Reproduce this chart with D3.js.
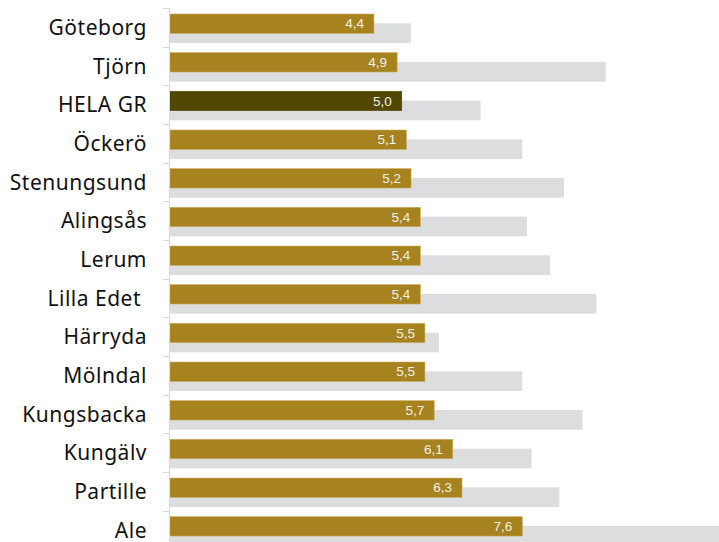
<!DOCTYPE html>
<html>
<head>
<meta charset="utf-8">
<title>GR kommuner</title>
<script src="https://d3js.org/d3.v7.min.js"></script>
<style>
  body { margin: 0; background: #fff; }
  svg { display: block; }
</style>
</head>
<body>
<svg width="719" height="542"></svg>
<script>
const categories = ['Göteborg', 'Tjörn', 'HELA GR', 'Öckerö', 'Stenungsund', 'Alingsås', 'Lerum',
  'Lilla Edet ', 'Härryda', 'Mölndal', 'Kungsbacka', 'Kungälv', 'Partille', 'Ale'];
const values = [4.4, 4.9, 5.0, 5.1, 5.2, 5.4, 5.4, 5.4, 5.5, 5.5, 5.7, 6.1, 6.3, 7.6];
const compare = [5.2, 9.4, 6.7, 7.6, 8.5, 7.7, 8.2, 9.2, 5.8, 7.6, 8.9, 7.8, 8.4, 12.0];
const highlight = 'HELA GR';

const svg = d3.select('svg');
const left = 170;

const x = d3.scaleLinear().domain([0, 1]).range([left, left + 46.35]);
const y = d3.scaleBand().domain(categories).range([8, 8 + 38.67 * categories.length]);
const step = y.step();
const barH = step * 0.5;

const fmt = d3.formatLocale({ decimal: ',', thousands: ' ', grouping: [3], currency: ['', ' kr'] }).format('.1f');

// grey comparison bars
svg.append('g').selectAll('rect')
  .data(categories)
  .join('rect')
  .attr('x', x(0))
  .attr('y', (d) => y(d) + step * 0.395)
  .attr('width', (d, i) => x(compare[i]) - x(0))
  .attr('height', barH + 0.4)
  .attr('fill', '#dcdddf');

// main bars
svg.append('g').selectAll('rect')
  .data(categories)
  .join('rect')
  .attr('x', x(0))
  .attr('y', (d) => y(d) + step * 0.155)
  .attr('width', (d, i) => x(values[i]) - x(0))
  .attr('height', barH)
  .attr('fill', (d) => d === highlight ? '#514700' : '#a6831f')
  .attr('stroke', (d) => d === highlight ? '#514700' : '#c9a95a')
  .attr('stroke-width', 0.6);

svg.append('g').selectAll('text')
  .data(categories)
  .join('text')
  .attr('x', (d, i) => x(values[i]) - 10)
  .attr('y', (d) => y(d) + step * 0.155 + barH / 2)
  .attr('dy', '0.35em')
  .attr('text-anchor', 'end')
  .attr('fill', '#f4f1e8')
  .style('font-family', '"Liberation Sans", Arial, sans-serif')
  .style('font-size', '13.5px')
  .text((d, i) => fmt(values[i]));

// axis line + ticks at band edges
const edges = categories.map((d) => y(d)).concat([y.range()[1]]);
svg.append('line')
  .attr('x1', left - 0.5).attr('x2', left - 0.5)
  .attr('y1', y.range()[0]).attr('y2', y.range()[1])
  .attr('stroke', '#d9d9d9');
svg.append('g').selectAll('line')
  .data(edges)
  .join('line')
  .attr('x1', left - 7).attr('x2', left - 0.5)
  .attr('y1', (d) => Math.round(d) + 0.5).attr('y2', (d) => Math.round(d) + 0.5)
  .attr('stroke', '#d9d9d9');

svg.append('g').selectAll('text')
  .data(categories)
  .join('text')
  .attr('x', 147)
  .attr('y', (d) => y(d) + step / 2)
  .attr('dy', '0.36em')
  .attr('text-anchor', 'end')
  .attr('fill', '#111')
  .style('white-space', 'pre')
  .style('font-family', '"Noto Sans", sans-serif')
  .style('font-size', '21px')
  .style('letter-spacing', '0.5px')
  .text((d) => d);
</script>
</body>
</html>
